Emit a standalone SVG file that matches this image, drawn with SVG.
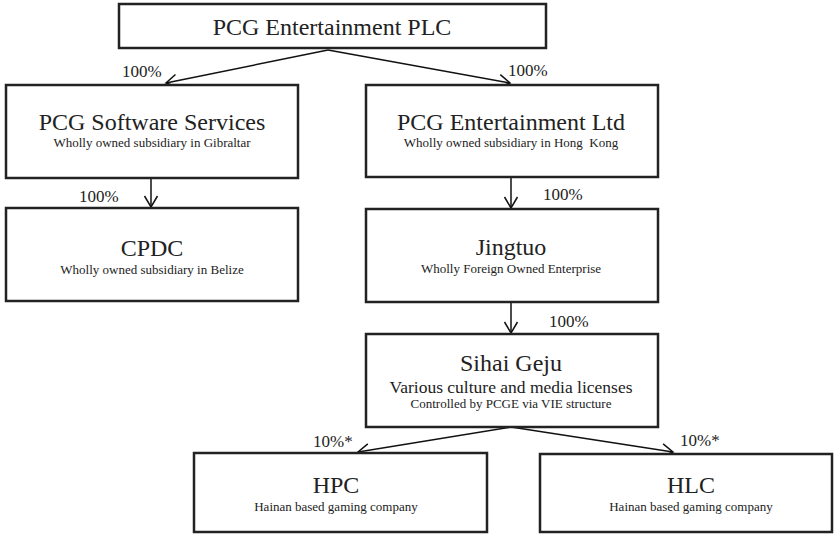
<svg xmlns="http://www.w3.org/2000/svg" width="834" height="534" viewBox="0 0 834 534">
<defs>
<style>
.box{fill:#fff;stroke:#222;stroke-width:2.5}
text{font-family:"Liberation Serif","Times New Roman",serif;fill:#222;text-anchor:middle}
.t{font-size:24px}
.m{font-size:17.5px}
.s{font-size:13px}
.p{font-size:17px;text-anchor:start}
.c{fill:none;stroke:#111;stroke-width:1.5}
</style>
<marker id="ah" markerUnits="userSpaceOnUse" markerWidth="16" markerHeight="16" viewBox="-12 -8 14 16" refX="0" refY="0" orient="auto">
<path d="M-11,-6.5 L0,0 L-11,6.5" fill="none" stroke="#111" stroke-width="1.5"/>
</marker>
</defs>
<rect width="834" height="534" fill="#fff"/>
<g id="connectors">
<line class="c" x1="328" y1="50" x2="166" y2="83" marker-end="url(#ah)"/>
<line class="c" x1="328" y1="50" x2="510" y2="83" marker-end="url(#ah)"/>
<line class="c" x1="151" y1="178" x2="151" y2="207" marker-end="url(#ah)"/>
<line class="c" x1="511" y1="177" x2="511" y2="208" marker-end="url(#ah)"/>
<line class="c" x1="511" y1="302" x2="511" y2="333" marker-end="url(#ah)"/>
<line class="c" x1="511" y1="427" x2="358" y2="452" marker-end="url(#ah)"/>
<line class="c" x1="511" y1="427" x2="673" y2="452" marker-end="url(#ah)"/>
<text class="p" x="122" y="77">100%</text>
<text class="p" x="508" y="76">100%</text>
<text class="p" x="79" y="202">100%</text>
<text class="p" x="543" y="200">100%</text>
<text class="p" x="549" y="327">100%</text>
<text class="p" x="313" y="447">10%*</text>
<text class="p" x="680" y="446">10%*</text>
</g>
<g id="plc">
<rect class="box" x="119" y="4" width="427" height="44"/>
<text class="t" x="332" y="35">PCG Entertainment PLC</text>
</g>
<g id="software">
<rect class="box" x="6" y="85" width="292" height="93"/>
<text class="t" x="152" y="130">PCG Software Services</text>
<text class="s" x="152" y="147">Wholly owned subsidiary in Gibraltar</text>
</g>
<g id="ltd">
<rect class="box" x="366" y="85" width="292" height="92"/>
<text class="t" x="511" y="130">PCG Entertainment Ltd</text>
<text class="s" x="511" y="147" xml:space="preserve">Wholly owned subsidiary in Hong  Kong</text>
</g>
<g id="cpdc">
<rect class="box" x="6" y="208" width="292" height="93"/>
<text class="t" x="152" y="256">CPDC</text>
<text class="s" x="152" y="274">Wholly owned subsidiary in Belize</text>
</g>
<g id="jingtuo">
<rect class="box" x="366" y="209" width="292" height="93"/>
<text class="t" x="511" y="255">Jingtuo</text>
<text class="s" x="511" y="273">Wholly Foreign Owned Enterprise</text>
</g>
<g id="sihai">
<rect class="box" x="366" y="334" width="292" height="93"/>
<text class="t" x="511" y="371">Sihai Geju</text>
<text class="m" x="511" y="393">Various culture and media licenses</text>
<text class="s" x="511" y="408">Controlled by PCGE via VIE structure</text>
</g>
<g id="hpc">
<rect class="box" x="194" y="453" width="293" height="79"/>
<text class="t" x="336" y="493">HPC</text>
<text class="s" x="336" y="511">Hainan based gaming company</text>
</g>
<g id="hlc">
<rect class="box" x="540" y="454" width="292" height="78"/>
<text class="t" x="691" y="493">HLC</text>
<text class="s" x="691" y="511">Hainan based gaming company</text>
</g>
</svg>
